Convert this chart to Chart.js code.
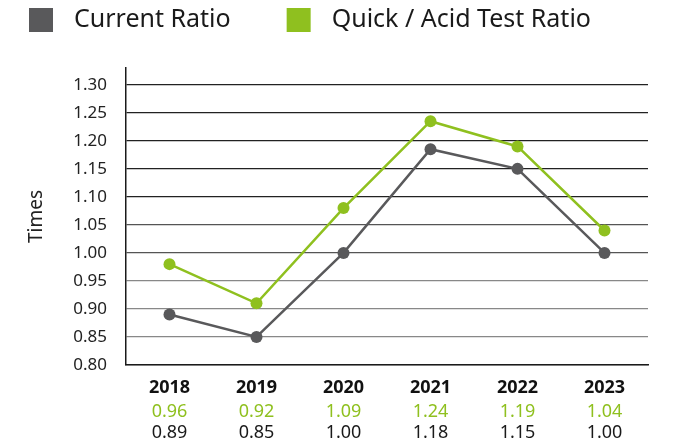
<!DOCTYPE html>
<html>
<head>
<meta charset="utf-8">
<script src="https://cdn.jsdelivr.net/npm/chart.js@4"></script>
<style>
  html, body { margin: 0; padding: 0; background: #fff; }
  #wrap { width: 699px; height: 445px; position: relative; }
</style>
</head>
<body>
<div id="wrap"><canvas id="ratioChart"></canvas></div>
<script>
// data
var years = ['2018', '2019', '2020', '2021', '2022', '2023'];
var currentRatio = [0.89, 0.85, 1.00, 1.185, 1.15, 1.00];
var quickRatio = [0.98, 0.91, 1.08, 1.235, 1.19, 1.04];
var currentLabels = ['0.89', '0.85', '1.00', '1.18', '1.15', '1.00'];
var quickLabels = ['0.96', '0.92', '1.09', '1.24', '1.19', '1.04'];
var yTicks = [0.80, 0.85, 0.90, 0.95, 1.00, 1.05, 1.10, 1.15, 1.20, 1.25, 1.30];

var GREY = '#59595b';
var GREEN = '#8fc01f';
var FONT = "'Noto Sans', sans-serif";

// legend boxes + the value rows under the x axis
var extrasPlugin = {
    id: 'extras',
    afterDraw: function (chart) {
        var ctx = chart.ctx;
        var xScale = chart.scales.x;
        ctx.save();

        // legend
        ctx.font = '25px ' + FONT;
        ctx.textAlign = 'left';
        ctx.textBaseline = 'alphabetic';
        var x = 29;
        chart.data.datasets.forEach(function (ds) {
            ctx.fillStyle = ds.borderColor;
            ctx.fillRect(x, 8, 24, 24);
            ctx.fillStyle = '#1a1a1a';
            ctx.fillText(ds.label, x + 45, 27);
            x += 45 + ctx.measureText(ds.label).width + 56;
        });

        // year / value table
        ctx.textAlign = 'center';
        years.forEach(function (y, i) {
            var px = xScale.getPixelForValue(i);
            ctx.font = 'bold 18px ' + FONT;
            ctx.fillStyle = '#111';
            ctx.fillText(y, px, 393);
            ctx.font = '18px ' + FONT;
            ctx.fillStyle = GREEN;
            ctx.fillText(quickLabels[i], px, 417);
            ctx.fillStyle = '#1a1a1a';
            ctx.fillText(currentLabels[i], px, 438);
        });
        ctx.restore();
    }
};

var ctx = document.getElementById('ratioChart').getContext('2d');
new Chart(ctx, {
    type: 'line',
    data: {
        labels: years,
        datasets: [{
            label: 'Current Ratio',
            data: currentRatio,
            borderColor: GREY,
            backgroundColor: GREY,
            borderWidth: 2.5,
            pointRadius: 6,
            pointHoverRadius: 6,
            pointBorderWidth: 0,
            tension: 0
        }, {
            label: 'Quick / Acid Test Ratio',
            data: quickRatio,
            borderColor: GREEN,
            backgroundColor: GREEN,
            borderWidth: 2.5,
            pointRadius: 6,
            pointHoverRadius: 6,
            pointBorderWidth: 0,
            tension: 0
        }]
    },
    options: {
        responsive: true,
        maintainAspectRatio: false,
        animation: false,
        layout: { padding: { top: 68, right: 51, bottom: 0, left: 0 } },
        plugins: {
            legend: { display: false },
            tooltip: { enabled: false }
        },
        scales: {
            x: {
                offset: true,
                grid: { display: false },
                ticks: { display: false },
                border: { display: true, color: '#1a1a1a', width: 1.5 },
                afterFit: function (scale) { scale.height = 80; }
            },
            y: {
                min: 0.8,
                max: 1.33,
                ticks: {
                    padding: 19,
                    color: '#222',
                    font: { family: FONT, size: 17 },
                    callback: function (v) { return v.toFixed(2); }
                },
                afterBuildTicks: function (scale) {
                    scale.ticks = yTicks.map(function (v) { return { value: v }; });
                },
                grid: {
                    drawTicks: false,
                    lineWidth: 1.3,
                    color: function (c) {
                        var v = c.tick ? c.tick.value : 0;
                        if (v >= 1.095) return '#222';
                        if (v >= 0.995) return '#555';
                        return '#888';
                    }
                },
                border: { display: true, color: '#1a1a1a', width: 1.5 },
                title: {
                    display: true,
                    text: 'Times',
                    color: '#222',
                    font: { family: FONT, size: 19 },
                    padding: { top: 25, bottom: 0 }
                },
                afterFit: function (scale) { scale.width = 126; }
            }
        }
    },
    plugins: [extrasPlugin]
});
</script>
</body>
</html>
